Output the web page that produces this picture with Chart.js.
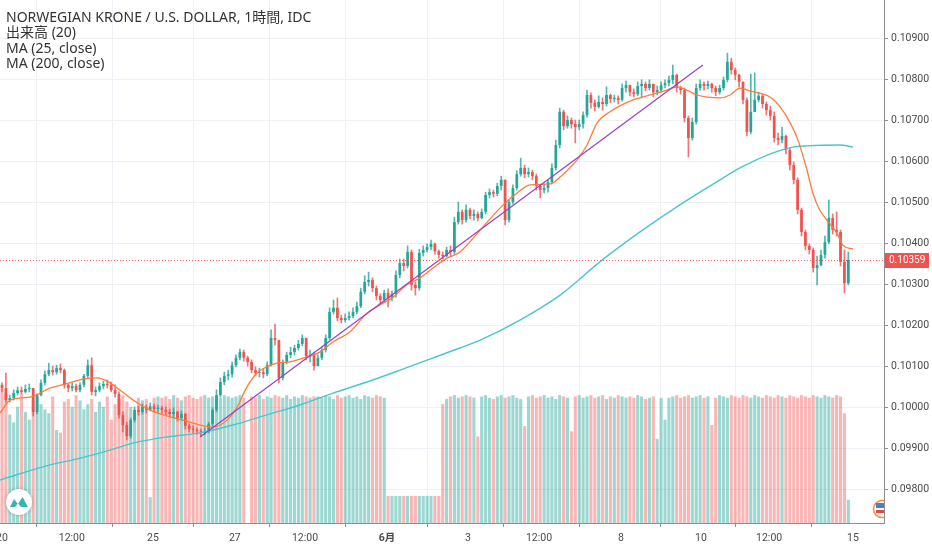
<!DOCTYPE html>
<html>
<head>
<meta charset="utf-8">
<script src="https://cdn.jsdelivr.net/npm/chart.js@4.4.1/dist/chart.umd.min.js"></script>
<style>
  html, body { margin: 0; padding: 0; background: #fff; }
  canvas { display: block; }
</style>
</head>
<body>
<canvas id="chart" width="932" height="550"></canvas>
<script>
// 2-hour candles (open = previous close)
const firstOpen = 0.10054;
const closes = [
  0.10046, 0.10017, 0.10022, 0.10034, 0.10041, 0.10037, 0.10044, 0.10046, 0.09988, 0.10029,
  0.10059, 0.10080, 0.10090, 0.10085, 0.10095, 0.10090, 0.10054, 0.10046, 0.10051, 0.10041,
  0.10054, 0.10076, 0.10102, 0.10037, 0.10041, 0.10051, 0.10056, 0.10054, 0.10041, 0.10032,
  0.09980, 0.09956, 0.09929, 0.09968, 0.09993, 0.09988, 0.10000, 0.09993, 0.10002, 0.09995,
  0.09998,
  0.09993, 0.09988, 0.09983, 0.09988, 0.09973, 0.09983, 0.09954, 0.09946, 0.09944, 0.09941,
  0.09937, 0.09941, 0.09959, 0.09993, 0.10029, 0.10061, 0.10076, 0.10080, 0.10102, 0.10120,
  0.10134, 0.10120, 0.10110, 0.10090, 0.10083, 0.10085, 0.10080, 0.10102, 0.10168, 0.10163,
  0.10071, 0.10110, 0.10127, 0.10134, 0.10144, 0.10154, 0.10168, 0.10124, 0.10127, 0.10100,
  0.10120, 0.10139, 0.10168, 0.10232, 0.10242, 0.10217, 0.10212, 0.10217, 0.10222, 0.10232,
  0.10246, 0.10281, 0.10305, 0.10310, 0.10290, 0.10271, 0.10261, 0.10278, 0.10266, 0.10276,
  0.10322, 0.10351, 0.10344, 0.10378, 0.10298, 0.10290, 0.10376, 0.10383, 0.10390, 0.10398,
  0.10380, 0.10371, 0.10368, 0.10383, 0.10378, 0.10451, 0.10476, 0.10456, 0.10481, 0.10466,
  0.10471, 0.10461, 0.10476, 0.10517, 0.10524, 0.10520, 0.10539, 0.10554, 0.10456, 0.10500,
  0.10534, 0.10568, 0.10583, 0.10568, 0.10573, 0.10563, 0.10539, 0.10529, 0.10534, 0.10549,
  0.10583, 0.10639, 0.10720, 0.10685, 0.10700, 0.10690, 0.10683, 0.10690, 0.10712, 0.10761,
  0.10742, 0.10732, 0.10744, 0.10739, 0.10761, 0.10751, 0.10754, 0.10749, 0.10778, 0.10785,
  0.10768, 0.10763, 0.10783, 0.10788, 0.10778, 0.10788, 0.10768, 0.10773, 0.10785, 0.10790,
  0.10798, 0.10810, 0.10778, 0.10773, 0.10705, 0.10656, 0.10695, 0.10778, 0.10788, 0.10783,
  0.10788, 0.10778, 0.10768, 0.10778, 0.10798, 0.10842, 0.10822, 0.10810, 0.10793, 0.10749,
  0.10671, 0.10720, 0.10749, 0.10759, 0.10739, 0.10724, 0.10710, 0.10656, 0.10651, 0.10661,
  0.10627, 0.10590, 0.10554, 0.10481, 0.10427, 0.10393, 0.10383, 0.10339, 0.10346, 0.10371,
  0.10402, 0.10461, 0.10432, 0.10427, 0.10354, 0.10302, 0.10359
];
const highs = [
  0.10059, 0.10083, 0.10029, 0.10042, 0.10049, 0.10049, 0.10054, 0.10056, 0.10046, 0.10032,
  0.10066, 0.10088, 0.10107, 0.10100, 0.10102, 0.10105, 0.10093, 0.10056, 0.10059, 0.10056,
  0.10059, 0.10080, 0.10115, 0.10120, 0.10049, 0.10059, 0.10063, 0.10066, 0.10061, 0.10054,
  0.10037, 0.09988, 0.09963, 0.09973, 0.10000, 0.10002, 0.10007, 0.10005, 0.10010, 0.10007,
  0.10005,
  0.10002, 0.10000, 0.09995, 0.09998, 0.09990, 0.09990, 0.09985, 0.09959, 0.09954, 0.09949,
  0.09946, 0.09949, 0.09963, 0.09998, 0.10042, 0.10071, 0.10085, 0.10090, 0.10110, 0.10127,
  0.10141, 0.10139, 0.10124, 0.10115, 0.10098, 0.10095, 0.10093, 0.10110, 0.10188, 0.10202,
  0.10163, 0.10115, 0.10134, 0.10146, 0.10151, 0.10163, 0.10176, 0.10168, 0.10139, 0.10134,
  0.10127, 0.10146, 0.10176, 0.10242, 0.10261, 0.10266, 0.10224, 0.10227, 0.10232, 0.10242,
  0.10256, 0.10290, 0.10320, 0.10329, 0.10315, 0.10295, 0.10276, 0.10285, 0.10288, 0.10283,
  0.10332, 0.10361, 0.10361, 0.10393, 0.10383, 0.10305, 0.10385, 0.10393, 0.10398, 0.10407,
  0.10400, 0.10383, 0.10378, 0.10390, 0.10393, 0.10463, 0.10500, 0.10481, 0.10493, 0.10485,
  0.10481, 0.10476, 0.10483, 0.10524, 0.10532, 0.10529, 0.10546, 0.10563, 0.10554, 0.10505,
  0.10542, 0.10576, 0.10607, 0.10590, 0.10583, 0.10578, 0.10568, 0.10542, 0.10544, 0.10554,
  0.10593, 0.10651, 0.10729, 0.10724, 0.10710, 0.10705, 0.10700, 0.10700, 0.10720, 0.10773,
  0.10766, 0.10749, 0.10759, 0.10754, 0.10781, 0.10763, 0.10761, 0.10759, 0.10788, 0.10795,
  0.10785, 0.10776, 0.10793, 0.10798, 0.10793, 0.10798, 0.10788, 0.10783, 0.10793, 0.10798,
  0.10807, 0.10834, 0.10812, 0.10783, 0.10778, 0.10710, 0.10705, 0.10788, 0.10798, 0.10793,
  0.10795, 0.10790, 0.10783, 0.10785, 0.10805, 0.10863, 0.10851, 0.10827, 0.10812, 0.10788,
  0.10754, 0.10812, 0.10815, 0.10768, 0.10763, 0.10744, 0.10734, 0.10720, 0.10668, 0.10683,
  0.10663, 0.10632, 0.10598, 0.10559, 0.10485, 0.10432, 0.10398, 0.10388, 0.10368, 0.10383,
  0.10417, 0.10505, 0.10471, 0.10476, 0.10432, 0.10383, 0.10378
];
const lows = [
  0.10037, 0.10012, 0.10012, 0.10017, 0.10029, 0.10032, 0.10034, 0.10037, 0.09978, 0.09983,
  0.10027, 0.10054, 0.10076, 0.10078, 0.10080, 0.10083, 0.10046, 0.10037, 0.10039, 0.10037,
  0.10037, 0.10049, 0.10071, 0.10029, 0.10027, 0.10037, 0.10044, 0.10046, 0.10037, 0.10024,
  0.09973, 0.09939, 0.09920, 0.09924, 0.09963, 0.09980, 0.09983, 0.09985, 0.09990, 0.09988,
  0.09988,
  0.09985, 0.09980, 0.09976, 0.09973, 0.09966, 0.09968, 0.09946, 0.09939, 0.09937, 0.09934,
  0.09929, 0.09932, 0.09937, 0.09954, 0.09988, 0.10024, 0.10054, 0.10066, 0.10073, 0.10098,
  0.10115, 0.10112, 0.10100, 0.10083, 0.10076, 0.10073, 0.10071, 0.10076, 0.10100, 0.10151,
  0.10059, 0.10066, 0.10105, 0.10120, 0.10127, 0.10139, 0.10149, 0.10115, 0.10110, 0.10090,
  0.10100, 0.10115, 0.10134, 0.10163, 0.10227, 0.10210, 0.10205, 0.10207, 0.10212, 0.10217,
  0.10227, 0.10242, 0.10276, 0.10295, 0.10281, 0.10261, 0.10251, 0.10256, 0.10244, 0.10259,
  0.10268, 0.10315, 0.10332, 0.10339, 0.10285, 0.10273, 0.10285, 0.10368, 0.10378, 0.10383,
  0.10373, 0.10363, 0.10361, 0.10366, 0.10368, 0.10373, 0.10446, 0.10446, 0.10451, 0.10459,
  0.10456, 0.10454, 0.10459, 0.10471, 0.10510, 0.10512, 0.10515, 0.10529, 0.10444, 0.10451,
  0.10495, 0.10529, 0.10563, 0.10559, 0.10561, 0.10554, 0.10529, 0.10510, 0.10522, 0.10524,
  0.10544, 0.10578, 0.10632, 0.10676, 0.10680, 0.10680, 0.10644, 0.10676, 0.10680, 0.10707,
  0.10729, 0.10722, 0.10729, 0.10724, 0.10734, 0.10742, 0.10744, 0.10739, 0.10746, 0.10768,
  0.10759, 0.10756, 0.10759, 0.10754, 0.10771, 0.10773, 0.10756, 0.10761, 0.10768, 0.10778,
  0.10783, 0.10788, 0.10768, 0.10763, 0.10695, 0.10610, 0.10651, 0.10690, 0.10773, 0.10773,
  0.10776, 0.10768, 0.10759, 0.10763, 0.10773, 0.10793, 0.10812, 0.10798, 0.10781, 0.10739,
  0.10661, 0.10666, 0.10720, 0.10744, 0.10729, 0.10712, 0.10700, 0.10646, 0.10639, 0.10644,
  0.10617, 0.10578, 0.10544, 0.10471, 0.10417, 0.10383, 0.10373, 0.10329, 0.10298, 0.10344,
  0.10363, 0.10398, 0.10422, 0.10417, 0.10344, 0.10278, 0.10298
];
// 出来高 (relative units)
const volumes = [
  104, 100, 84, 78, 90, 100, 86, 80, 95, 97, 92, 88, 85, 98, 72, 70, 94, 96, 90, 99,
  95, 88, 92, 96, 86, 94, 90, 98, 80, 92, 96, 99, 94, 90, 85, 97, 95, 96, 20, 97,
  98,
  97, 98, 96, 99, 97, 95, 98, 99, 97, 96, 98, 99, 97, 98, 96, 97, 99, 98, 97, 98,
  99, 97, 0, 98, 97, 99, 96, 98, 97, 99, 98, 97, 99, 96, 98, 97, 99, 98, 97, 98,
  98, 97, 99, 98, 96, 99, 97, 98, 99, 97, 98, 96, 99, 98, 97, 99, 98, 97,
  21, 21, 21, 21, 21, 21, 21, 21, 21, 21, 21, 21, 21, 21,
  92, 96, 98, 99, 97, 98, 99, 98,
  97, 67, 98, 99, 97, 96, 98, 99, 97, 98, 99, 97, 96, 75, 98, 99, 97, 98, 99, 97,
  98, 96, 99, 98, 97, 71, 98, 99, 97, 98, 99, 97, 98, 99, 96, 98, 97, 99, 98, 97,
  98, 97, 99, 98, 96, 97, 98, 65, 97, 80, 97, 98, 99, 97, 98, 99, 97, 98, 99, 97,
  98, 76, 97, 99, 98, 97, 99, 98, 97, 99, 98, 97, 99, 98, 97, 99, 98, 97, 99, 98,
  97, 99, 98, 97, 99, 98, 97, 99, 98, 97, 99, 98, 97, 99, 98, 85, 18
];

// moving averages, read as points (x = candle index)
const ma25X = [-0.5, 2.1, 7.2, 12.3, 17.4, 20.8, 24.4, 27.7, 30.3, 33.6,
  37.9, 43.1, 46.4, 50.8, 54.1, 57.7, 60.3, 62.8, 65.4, 67.9,
  70.5, 73.8, 76.4, 81.5, 84.9, 89.2, 93.6, 96.9, 100.3, 103.8,
  107.2, 110.5, 114.1, 117.4, 123.1, 128.5, 132.1, 135.4, 140.5, 143.1,
  147.4, 150.0, 152.6, 155.9, 161.8, 166.2, 170.5, 173.1, 175.6, 178.2,
  180.8, 184.1, 186.7, 189.2, 191.8, 196.9, 199.5, 202.1, 204.1, 206.4,
  207.9, 209.7, 211.5, 214.1, 215.6, 218.2];
const ma25Y = [0.09985, 0.10017, 0.10024, 0.10046, 0.10059, 0.10068, 0.10071, 0.10059, 0.10041, 0.10017,
  0.09993, 0.09976, 0.09968, 0.09956, 0.09951, 0.09968, 0.10000, 0.10049, 0.10083, 0.10098,
  0.10107, 0.10110, 0.10117, 0.10134, 0.10159, 0.10183, 0.10229, 0.10249, 0.10268, 0.10298,
  0.10315, 0.10339, 0.10363, 0.10378, 0.10437, 0.10493, 0.10522, 0.10542, 0.10544, 0.10561,
  0.10602, 0.10639, 0.10693, 0.10720, 0.10749, 0.10761, 0.10773, 0.10781, 0.10773, 0.10761,
  0.10756, 0.10754, 0.10761, 0.10778, 0.10771, 0.10756, 0.10732, 0.10693, 0.10651, 0.10578,
  0.10522, 0.10480, 0.10456, 0.10424, 0.10395, 0.10385];
const ma200X = [-0.5, 12.3, 18.2, 27.7, 33.6, 42.3, 50.8, 59.2, 67.9, 76.4,
  84.9, 93.6, 102.1, 109.7, 117.4, 122.6, 132.8, 143.1, 153.3, 163.6,
  173.8, 184.1, 189.2, 197.7, 202.8, 206.4, 214.9, 218.2];
const ma200Y = [0.09822, 0.09859, 0.09871, 0.09895, 0.09912, 0.09927, 0.09937, 0.09956, 0.09981, 0.10005,
  0.10034, 0.10061, 0.10090, 0.10117, 0.10144, 0.10163, 0.10212, 0.10273, 0.10354, 0.10427,
  0.10493, 0.10554, 0.10583, 0.10620, 0.10634, 0.10637, 0.10639, 0.10634];

// trend line drawn by hand on the chart
const trendX = [50.8, 179.7];
const trendY = [0.09927, 0.10834];

const lastPrice = 0.10359;
const priceTicks = [0.098, 0.099, 0.100, 0.101, 0.102, 0.103, 0.104, 0.105, 0.106, 0.107, 0.108, 0.109];
const timeTickX = [0, 17.9, 38.7, 59.7, 77.7, 98.7, 119.5, 137.7, 158.7, 179.2, 196.7, 218.2];
const timeTickLabels = ['20', '12:00', '25', '27', '12:00', '6月', '3', '12:00', '8', '10', '12:00', '15'];
const legendLines = ['NORWEGIAN KRONE / U.S. DOLLAR, 1時間, IDC', '出来高 (20)', 'MA (25, close)', 'MA (200, close)'];

const UP = '#26a69a', DOWN = '#ef5350';
const VOL_UP = 'rgba(38, 166, 154, 0.45)', VOL_DOWN = 'rgba(239, 83, 80, 0.42)';
const FONT = 'Roboto, "Noto Sans CJK JP", sans-serif';
const LEGEND_FONT = '"Noto Sans", "Noto Sans CJK JP", sans-serif';

const opens = closes.map((c, i) => i === 0 ? firstOpen : closes[i - 1]);
const isUp = closes.map((c, i) => c >= opens[i]);
const bodies = closes.map((c, i) => ({x: i, y: [opens[i], c]}));
const wicks = closes.map((c, i) => ({
  x: i,
  y: [Math.min(lows[i], opens[i], c), Math.max(highs[i], opens[i], c)]
}));
const vols = volumes.map((v, i) => ({x: i, y: v}));
const points = (xs, ys) => xs.map((x, i) => ({x: x, y: ys[i]}));

const overlay = {
  id: 'overlay',
  afterDatasetsDraw(chart) {
    const ctx = chart.ctx, area = chart.chartArea;
    const py = chart.scales.y.getPixelForValue(lastPrice);
    ctx.save();
    ctx.strokeStyle = 'rgba(239, 83, 80, 0.9)';
    ctx.lineWidth = 1;
    ctx.setLineDash([1, 2]);
    ctx.beginPath();
    ctx.moveTo(area.left, Math.round(py) + 0.5);
    ctx.lineTo(area.right, Math.round(py) + 0.5);
    ctx.stroke();
    ctx.restore();
  },
  afterDraw(chart) {
    const ctx = chart.ctx, area = chart.chartArea;
    const py = Math.round(chart.scales.y.getPixelForValue(lastPrice));

    // last price label on the axis
    ctx.save();
    ctx.fillStyle = '#ef5350';
    ctx.fillRect(area.right + 1, py - 7, 44, 15);
    ctx.fillStyle = '#fff';
    ctx.font = '10px ' + FONT;
    ctx.textBaseline = 'middle';
    ctx.textAlign = 'left';
    ctx.fillText(lastPrice.toFixed(5), area.right + 5, py + 0.5);

    // legend
    ctx.fillStyle = '#333';
    ctx.font = '14px ' + LEGEND_FONT;
    ctx.textBaseline = 'alphabetic';
    legendLines.forEach((t, i) => ctx.fillText(t, 6, 21.5 + i * 15.5));

    // logo, bottom left
    ctx.shadowColor = 'rgba(0,0,0,0.25)';
    ctx.shadowBlur = 4;
    ctx.fillStyle = '#fff';
    ctx.beginPath();
    ctx.arc(19, 502, 13, 0, Math.PI * 2);
    ctx.fill();
    ctx.shadowBlur = 0;
    ctx.fillStyle = '#3bb3b5';
    ctx.beginPath();
    ctx.moveTo(10, 507);
    ctx.lineTo(14, 499);
    ctx.lineTo(18, 504);
    ctx.lineTo(22.5, 497);
    ctx.lineTo(28, 507);
    ctx.closePath();
    ctx.fill();
    ctx.fillStyle = '#fff';
    ctx.beginPath();
    ctx.moveTo(15, 507);
    ctx.lineTo(18, 503.5);
    ctx.lineTo(21, 507);
    ctx.closePath();
    ctx.fill();

    // currency badge, bottom right
    ctx.beginPath();
    ctx.rect(area.left, area.top, area.right - area.left, area.bottom - area.top);
    ctx.clip();
    ctx.fillStyle = '#fff';
    ctx.strokeStyle = '#f0883e';
    ctx.lineWidth = 1.5;
    ctx.beginPath();
    ctx.arc(882, 509, 8.5, 0, Math.PI * 2);
    ctx.fill();
    ctx.stroke();
    ctx.fillStyle = '#4a7fc0';
    ctx.fillRect(876, 503, 8, 5);
    ctx.fillStyle = '#e0464b';
    ctx.fillRect(876, 510, 8, 3);
    ctx.restore();
  }
};

new Chart(document.getElementById('chart'), {
  type: 'bar',
  data: {
    datasets: [
      {
        type: 'line', label: 'trend', data: points(trendX, trendY),
        borderColor: '#9a3fc8', borderWidth: 1.2, pointRadius: 0, order: 0
      },
      {
        type: 'line', label: 'MA (25, close)', data: points(ma25X, ma25Y),
        borderColor: '#ff7b3a', borderWidth: 1.3, pointRadius: 0,
        cubicInterpolationMode: 'monotone', order: 1
      },
      {
        type: 'line', label: 'MA (200, close)', data: points(ma200X, ma200Y),
        borderColor: '#4ac6cf', borderWidth: 1.4, pointRadius: 0,
        cubicInterpolationMode: 'monotone', order: 2
      },
      {
        label: 'body', data: bodies, grouped: false,
        backgroundColor: isUp.map(u => u ? UP : DOWN),
        categoryPercentage: 1, barPercentage: 0.7, minBarLength: 1, order: 3
      },
      {
        label: 'wick', data: wicks, grouped: false,
        backgroundColor: isUp.map(u => u ? 'rgba(38,166,154,0.8)' : 'rgba(239,83,80,0.8)'),
        barThickness: 1, order: 4
      },
      {
        label: '出来高', data: vols, yAxisID: 'yv', grouped: false,
        backgroundColor: isUp.map(u => u ? VOL_UP : VOL_DOWN),
        categoryPercentage: 1, barPercentage: 0.8, order: 5
      }
    ]
  },
  options: {
    responsive: false,
    animation: false,
    events: [],
    layout: { padding: 0 },
    plugins: { legend: { display: false }, tooltip: { enabled: false } },
    scales: {
      x: {
        type: 'linear', min: -0.51, max: 226.15, offset: false,
        afterBuildTicks: s => { s.ticks = timeTickX.map(v => ({value: v})); },
        afterFit: s => { s.height = 27; s.paddingLeft = 0; s.paddingRight = 0; },
        ticks: {
          autoSkip: false, maxRotation: 0, padding: 5, color: '#4a4a4a',
          font: c => ({family: FONT, size: 10.5, weight: timeTickLabels[c.index] === '6月' ? 'bold' : 'normal'}),
          callback: (v, i) => timeTickLabels[i]
        },
        grid: { color: '#edf0f5', tickColor: '#8f8f8f', tickLength: 4 },
        border: { color: '#8f8f8f' }
      },
      y: {
        position: 'right', min: 0.097171, max: 0.109927,
        afterBuildTicks: s => { s.ticks = priceTicks.map(v => ({value: v})); },
        afterFit: s => { s.width = 48; s.paddingTop = 0; s.paddingBottom = 0; },
        ticks: {
          padding: 3, color: '#4a4a4a', font: { family: FONT, size: 10.5 },
          callback: v => v.toFixed(5)
        },
        grid: { color: '#edf0f5', tickColor: '#8f8f8f', tickLength: 4 },
        border: { color: '#8f8f8f' }
      },
      yv: { axis: 'y', display: false, min: 0, max: 405 }
    }
  },
  plugins: [overlay]
});
</script>
</body>
</html>
